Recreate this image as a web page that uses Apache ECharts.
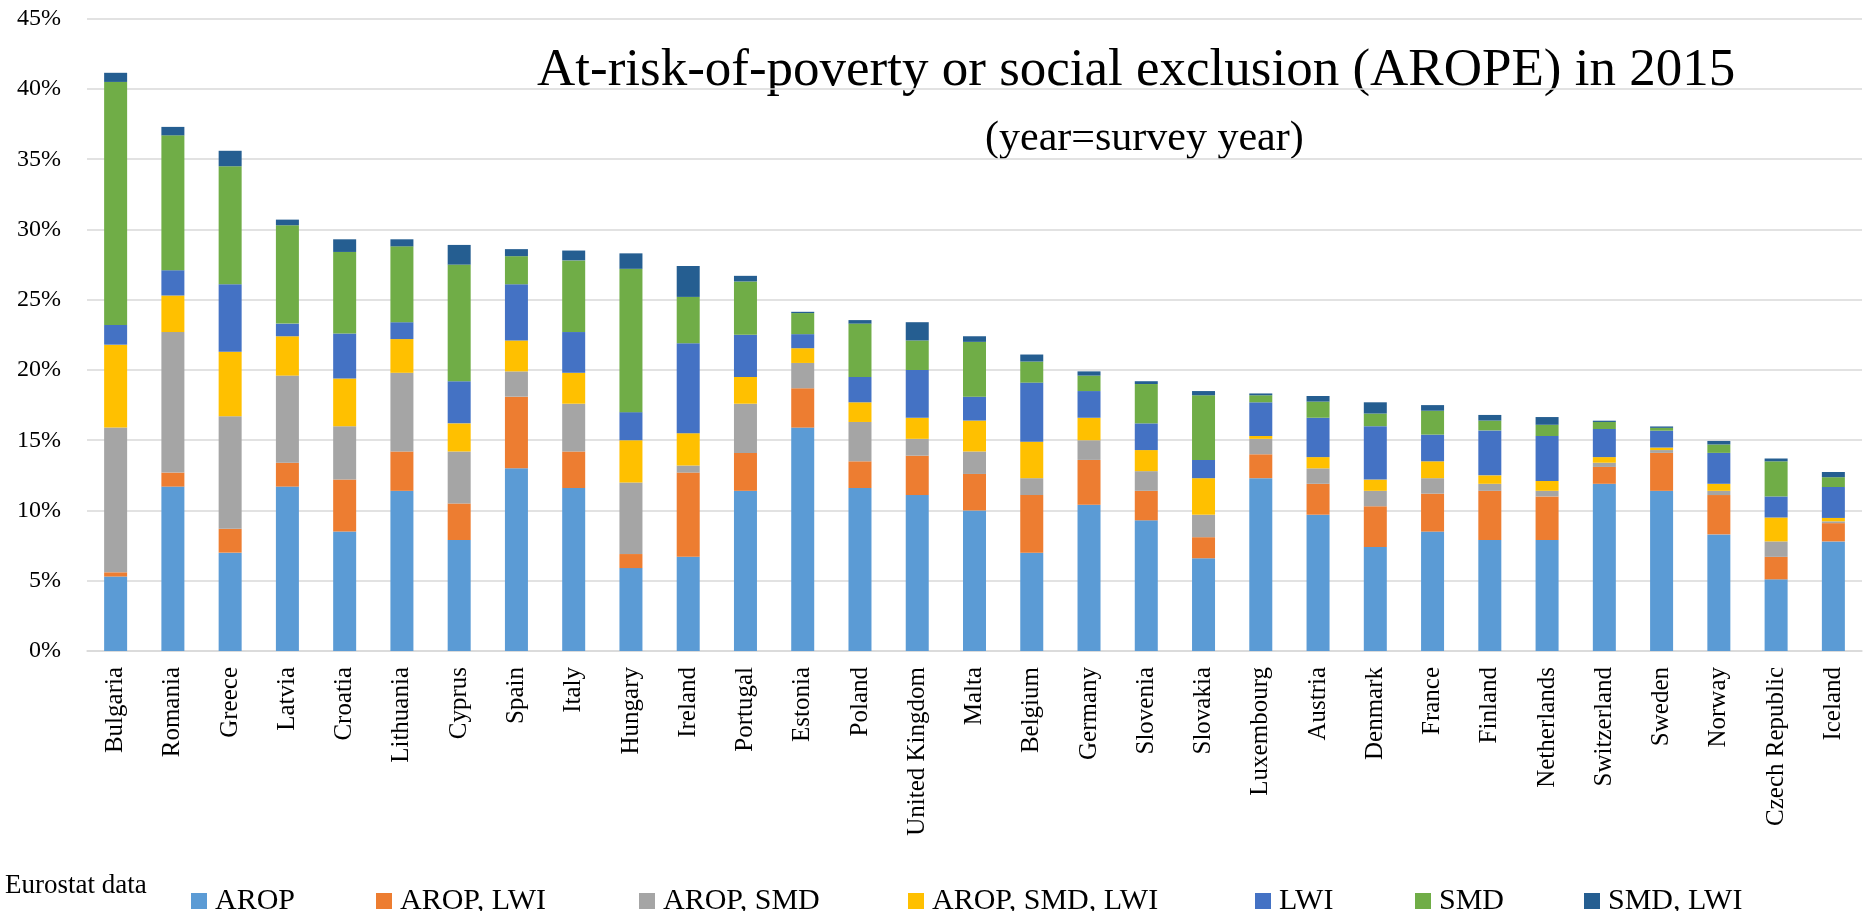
<!DOCTYPE html>
<html>
<head>
<meta charset="utf-8">
<title>AROPE 2015</title>
<script src="https://cdn.jsdelivr.net/npm/echarts@6/dist/echarts.min.js"></script>
<style>
    html, body { margin: 0; padding: 0; background: #fff; }
    #grafico { width: 1864px; height: 911px; }
</style>
</head>
<body>
<div id="grafico"></div>
<script>
var paises = ['Bulgaria', 'Romania', 'Greece', 'Latvia', 'Croatia', 'Lithuania', 'Cyprus', 'Spain', 'Italy', 'Hungary',
    'Ireland', 'Portugal', 'Estonia', 'Poland', 'United Kingdom', 'Malta', 'Belgium', 'Germany', 'Slovenia', 'Slovakia',
    'Luxembourg', 'Austria', 'Denmark', 'France', 'Finland', 'Netherlands', 'Switzerland', 'Sweden', 'Norway',
    'Czech Republic', 'Iceland'];

var arop = [5.3, 11.7, 7.0, 11.7, 8.5, 11.4, 7.9, 13.0, 11.6, 5.9, 6.7, 11.4, 15.9, 11.6, 11.1, 10.0, 7.0, 10.4, 9.3, 6.6,
    12.3, 9.7, 7.4, 8.5, 7.9, 7.9, 11.9, 11.4, 8.3, 5.1, 7.8];
var aropLwi = [0.3, 1.0, 1.7, 1.7, 3.7, 2.8, 2.6, 5.1, 2.6, 1.0, 6.0, 2.7, 2.8, 1.9, 2.8, 2.6, 4.1, 3.2, 2.1, 1.5,
    1.7, 2.2, 2.9, 2.7, 3.5, 3.1, 1.2, 2.7, 2.8, 1.6, 1.3];
var aropSmd = [10.3, 10.0, 8.0, 6.2, 3.8, 5.6, 3.7, 1.8, 3.4, 5.1, 0.5, 3.5, 1.8, 2.8, 1.2, 1.6, 1.2, 1.4, 1.4, 1.6,
    1.1, 1.1, 1.1, 1.1, 0.5, 0.4, 0.3, 0.2, 0.3, 1.1, 0.13];
var aropSmdLwi = [5.9, 2.6, 4.6, 2.8, 3.4, 2.4, 2.0, 2.2, 2.2, 3.0, 2.3, 1.9, 1.05, 1.4, 1.5, 2.2, 2.6, 1.6, 1.5, 2.6,
    0.2, 0.8, 0.8, 1.2, 0.6, 0.7, 0.4, 0.18, 0.5, 1.7, 0.24];
var lwi = [1.4, 1.8, 4.8, 0.9, 3.2, 1.2, 3.0, 4.0, 2.9, 2.0, 6.4, 3.0, 1.0, 1.8, 3.4, 1.7, 4.2, 1.9, 1.9, 1.3,
    2.4, 2.8, 3.8, 1.9, 3.2, 3.2, 2.0, 1.2, 2.2, 1.5, 2.2];
var smd = [17.3, 9.6, 8.4, 7.0, 5.8, 5.4, 8.3, 2.0, 5.1, 10.2, 3.3, 3.8, 1.5, 3.8, 2.1, 3.9, 1.5, 1.1, 2.8, 4.6,
    0.5, 1.15, 0.9, 1.7, 0.7, 0.8, 0.5, 0.2, 0.6, 2.5, 0.7];
var smdLwi = [0.65, 0.6, 1.1, 0.4, 0.9, 0.5, 1.4, 0.5, 0.7, 1.1, 2.2, 0.4, 0.09, 0.25, 1.3, 0.4, 0.5, 0.3, 0.2, 0.3,
    0.13, 0.4, 0.8, 0.4, 0.4, 0.55, 0.09, 0.1, 0.25, 0.2, 0.37];

var nomesSeries = ['AROP', 'AROP, LWI', 'AROP, SMD', 'AROP, SMD, LWI', 'LWI', 'SMD', 'SMD, LWI'];
var dadosSeries = [arop, aropLwi, aropSmd, aropSmdLwi, lwi, smd, smdLwi];
var cores = ['#5B9BD5', '#ED7D31', '#A5A5A5', '#FFC000', '#4472C4', '#70AD47', '#255E91'];
var posLegenda = [186, 371, 634, 903, 1250, 1410, 1579];

var fonte = "'Liberation Serif', 'Times New Roman', serif";

var dom = document.getElementById('grafico');
var chart = echarts.init(dom, null, { renderer: 'canvas' });

chart.setOption({
    animation: false,
    textStyle: { fontFamily: fonte, color: '#000' },
    grid: { left: 87, right: 2, top: 18.7, bottom: 260 },
    legend: nomesSeries.map(function (nome, i) {
        return {
            left: posLegenda[i],
            top: 881,
            data: [nome],
            itemWidth: 16,
            itemHeight: 16,
            icon: 'rect',
            selectedMode: false,
            textStyle: { fontFamily: fonte, fontSize: 30, color: '#000', padding: [0, 0, 0, 3] }
        };
    }),
    graphic: [
        {
            type: 'text', left: 537, top: 71 - 26,
            style: { text: 'At-risk-of-poverty or social exclusion (AROPE) in 2015', font: "53px " + fonte, fill: '#000' }
        },
        {
            type: 'text', left: 985, top: 139 - 21,
            style: { text: '(year=survey year)', font: "42px " + fonte, fill: '#000' }
        },
        {
            type: 'text', left: 5, top: 885 - 13,
            style: { text: 'Eurostat data', font: "27px " + fonte, fill: '#000' }
        }
    ],
    xAxis: {
        type: 'category',
        data: paises,
        axisTick: { show: false },
        axisLine: { lineStyle: { color: '#D9D9D9', width: 1.5 } },
        axisLabel: { rotate: 90, interval: 0, margin: 16, fontSize: 25, fontFamily: fonte, color: '#000' }
    },
    yAxis: {
        type: 'value',
        min: 0,
        max: 45,
        interval: 5,
        axisLine: { show: false },
        axisTick: { show: false },
        splitLine: { lineStyle: { color: '#D9D9D9', width: 1.5 } },
        axisLabel: { formatter: '{value}%', margin: 26, fontSize: 24, fontFamily: fonte, color: '#000' }
    },
    series: nomesSeries.map(function (nome, i) {
        return {
            name: nome,
            type: 'bar',
            stack: 'total',
            barWidth: 23,
            color: cores[i],
            data: dadosSeries[i]
        };
    })
});

window.addEventListener('resize', chart.resize);
</script>
</body>
</html>
